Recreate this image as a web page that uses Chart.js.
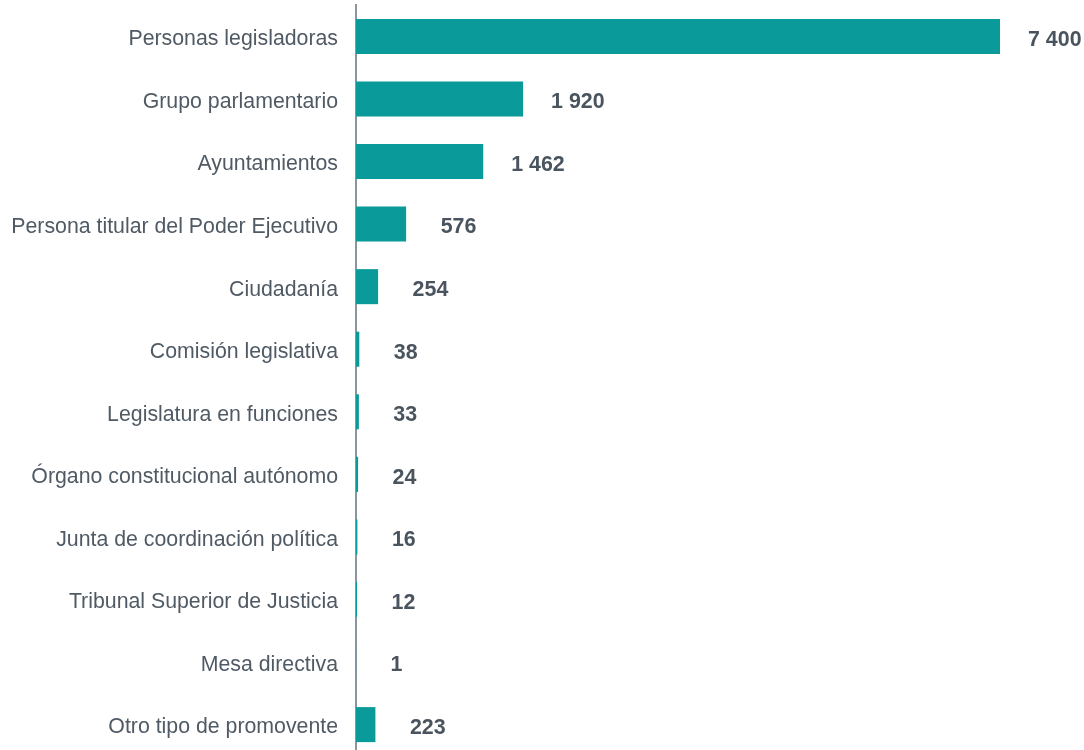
<!DOCTYPE html>
<html><head><meta charset="utf-8">
<script src="https://cdn.jsdelivr.net/npm/chart.js@4"></script>
<style>
html,body{margin:0;padding:0;background:#fff;overflow:hidden;}
#wrap{position:relative;width:1084px;height:761px;}
</style></head>
<body>
<div id="wrap"><canvas id="c"></canvas></div>
<script>
const categories = ["Personas legisladoras","Grupo parlamentario","Ayuntamientos","Persona titular del Poder Ejecutivo","Ciudadanía","Comisión legislativa","Legislatura en funciones","Órgano constitucional autónomo","Junta de coordinación política","Tribunal Superior de Justicia","Mesa directiva","Otro tipo de promovente"];
const values = [7400,1920,1462,576,254,38,33,24,16,12,1,223];

function fmt(v){return String(v).replace(/\B(?=(\d{3})+(?!\d))/g,' ');}

const valueLabels = {
  id:'valueLabels',
  afterDatasetsDraw(chart){
    const ctx = chart.ctx;
    const meta = chart.getDatasetMeta(0);
    ctx.save();
    ctx.font = 'bold 21.4px "Liberation Sans", Arial, sans-serif';
    ctx.fillStyle = '#4a545e';
    ctx.textAlign = 'left';
    ctx.textBaseline = 'middle';
    meta.data.forEach((bar,i)=>{
      const off = values[i] >= 1000 ? 28 : 34.5;
      ctx.fillText(fmt(values[i]), bar.x + off, bar.y + 3.5);
    });
    ctx.restore();
  }
};

new Chart(document.getElementById('c'),{
  type:'bar',
  data:{labels:categories,datasets:[{data:values,backgroundColor:'#0a9a9a',borderWidth:0,barPercentage:0.56,categoryPercentage:1}]},
  options:{
    indexAxis:'y',
    responsive:true,maintainAspectRatio:false,animation:false,
    layout:{padding:0},
    plugins:{legend:{display:false},tooltip:{enabled:false}},
    scales:{
      x:{display:false,min:0,max:8365},
      y:{
        grid:{display:false,drawTicks:true,tickLength:18},
        border:{display:true,color:'#8a959e',width:2},
        ticks:{color:'#505a64',padding:0,labelOffset:3,font:{family:'"Liberation Sans", Arial, sans-serif',size:21.3,lineHeight:0.48}},
        afterFit(s){s.width=356;}
      }
    }
  },
  plugins:[valueLabels]
});
</script>
</body></html>
